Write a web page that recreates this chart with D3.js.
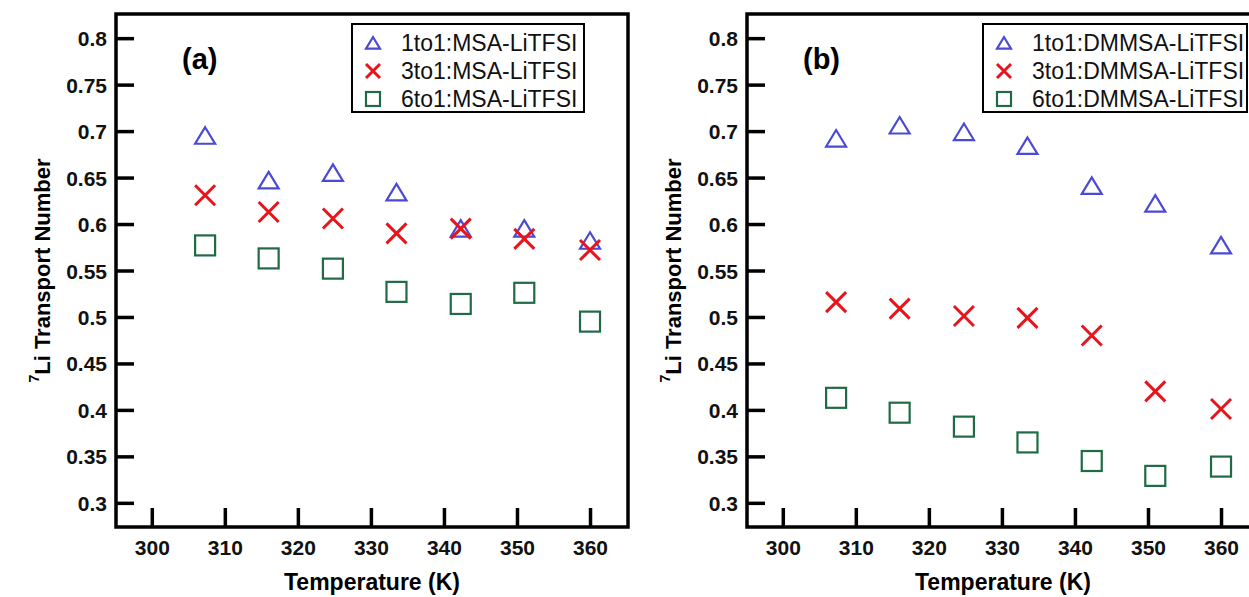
<!DOCTYPE html>
<html>
<head>
<meta charset="utf-8">
<script src="https://cdn.jsdelivr.net/npm/d3@7"></script>
<style>
  body { margin: 0; background: #fff; }
  text { font-family: "Liberation Sans", Arial, sans-serif; }
</style>
</head>
<body>
<div id="chart"></div>
<script>
// temperatures (K) shared by both panels
const temps = [307.3, 316.0, 324.8, 333.5, 342.3, 351.0, 360.0];

// panel (a): MSA-LiTFSI
const msa_1to1 = [0.695, 0.647, 0.655, 0.634, 0.595, 0.595, 0.582];
const msa_3to1 = [0.631, 0.613, 0.606, 0.590, 0.595, 0.584, 0.572];
const msa_6to1 = [0.577, 0.563, 0.552, 0.527, 0.514, 0.526, 0.495];

// panel (b): DMMSA-LiTFSI
const dmmsa_1to1 = [0.692, 0.706, 0.699, 0.684, 0.641, 0.622, 0.577];
const dmmsa_3to1 = [0.516, 0.509, 0.501, 0.499, 0.480, 0.420, 0.401];
const dmmsa_6to1 = [0.413, 0.397, 0.382, 0.365, 0.345, 0.329, 0.339];

const xTicks = [300, 310, 320, 330, 340, 350, 360];
const yTicks = [0.3, 0.35, 0.4, 0.45, 0.5, 0.55, 0.6, 0.65, 0.7, 0.75, 0.8];

const W = 1249, H = 597;
const svg = d3.select("#chart").append("svg")
  .attr("width", W)
  .attr("height", H);

const colors = {tri: "#4a4ad4", cross: "#e8141c", sq: "#1f6b45"};

function marker(g, type, x, y, s) {
  if (type == "tri") {
    g.append("path")
      .attr("d", "M" + x + "," + (y - 0.85 * s) + "L" + (x + s) + "," + (y + 0.8 * s) +
                 "L" + (x - s) + "," + (y + 0.8 * s) + "Z")
      .attr("fill", "none")
      .attr("stroke", colors.tri)
      .attr("stroke-width", 2.2);
  } else if (type == "cross") {
    g.append("path")
      .attr("d", "M" + (x - s) + "," + (y - s) + "L" + (x + s) + "," + (y + s) +
                 "M" + (x + s) + "," + (y - s) + "L" + (x - s) + "," + (y + s))
      .attr("fill", "none")
      .attr("stroke", colors.cross)
      .attr("stroke-width", 3);
  } else {
    g.append("rect")
      .attr("x", x - s).attr("y", y - s)
      .attr("width", 2 * s).attr("height", 2 * s)
      .attr("fill", "none")
      .attr("stroke", colors.sq)
      .attr("stroke-width", 2.2);
  }
}

function drawPanel(opt) {
  var left = opt.left, top = 14, width = 512, height = 513;

  var x = d3.scaleLinear().domain([295.1, 365.2]).range([0, width]);
  var y = d3.scaleLinear().domain([0.274, 0.826]).range([height, 0]);

  var g = svg.append("g")
    .attr("transform", "translate(" + left + "," + top + ")");

  // series
  var series = [
    {type: "tri", vals: opt.s1},
    {type: "cross", vals: opt.s3},
    {type: "sq", vals: opt.s6}
  ];
  series.forEach(function(s) {
    temps.forEach(function(t, i) {
      marker(g, s.type, x(t), y(s.vals[i]), 10);
    });
  });

  // y axis ticks pointing inward
  var yAxis = g.append("g")
    .call(d3.axisRight(y).tickValues(yTicks).tickSize(18).tickFormat(d3.format("")));
  yAxis.select(".domain").remove();
  yAxis.selectAll("line").attr("stroke", "#000").attr("stroke-width", 3.5);
  yAxis.selectAll("text")
    .attr("x", -9)
    .attr("text-anchor", "end")
    .attr("dy", "0.36em")
    .style("font-size", "21px")
    .style("font-weight", "bold")
    .attr("fill", "#111");

  // x axis ticks pointing inward
  var xAxis = g.append("g")
    .attr("transform", "translate(0," + height + ")")
    .call(d3.axisTop(x).tickValues(xTicks).tickSize(19).tickFormat(d3.format("d")));
  xAxis.select(".domain").remove();
  xAxis.selectAll("line").attr("stroke", "#000").attr("stroke-width", 3.5);
  xAxis.selectAll("text")
    .attr("y", 13)
    .attr("dy", "0.71em")
    .style("font-size", "21px")
    .style("font-weight", "bold")
    .attr("fill", "#111");

  // frame
  g.append("rect")
    .attr("width", width).attr("height", height)
    .attr("fill", "none")
    .attr("stroke", "#000")
    .attr("stroke-width", 3.5);

  // panel label
  g.append("text")
    .attr("x", opt.labelX).attr("y", 55)
    .style("font-size", "29px")
    .style("font-weight", "bold")
    .text(opt.label);

  // legend
  var lg = g.append("g")
    .attr("transform", "translate(" + opt.legX + ",10)");
  lg.append("rect")
    .attr("width", opt.legW).attr("height", 88)
    .attr("fill", "#fff")
    .attr("stroke", "#000")
    .attr("stroke-width", 2);
  opt.names.forEach(function(n, i) {
    var cy = 19 + i * 28;
    marker(lg, series[i].type, 21, cy, 7);
    lg.append("text")
      .attr("x", 49).attr("y", cy)
      .attr("dy", "0.36em")
      .style("font-size", "23px")
      .attr("fill", "#111")
      .text(n);
  });

  // axis titles
  svg.append("text")
    .attr("x", left + width / 2).attr("y", 590)
    .attr("text-anchor", "middle")
    .style("font-size", "23px")
    .style("font-weight", "bold")
    .text("Temperature (K)");

  var yl = svg.append("text")
    .attr("transform", "translate(" + opt.ylabX + "," + (top + height / 2) + ") rotate(-90)")
    .attr("text-anchor", "middle")
    .style("font-size", "22px")
    .style("font-weight", "bold");
  yl.append("tspan").attr("dy", "-0.5em").style("font-size", "14px").text("7");
  yl.append("tspan").attr("dy", "0.5em").text("Li Transport Number");
}

drawPanel({
  left: 116, label: "(a)", labelX: 66, legX: 236, legW: 232, ylabX: 46,
  s1: msa_1to1, s3: msa_3to1, s6: msa_6to1,
  names: ["1to1:MSA-LiTFSI", "3to1:MSA-LiTFSI", "6to1:MSA-LiTFSI"]
});

drawPanel({
  left: 747, label: "(b)", labelX: 56, legX: 236, legW: 264, ylabX: 677,
  s1: dmmsa_1to1, s3: dmmsa_3to1, s6: dmmsa_6to1,
  names: ["1to1:DMMSA-LiTFSI", "3to1:DMMSA-LiTFSI", "6to1:DMMSA-LiTFSI"]
});
</script>
</body>
</html>
